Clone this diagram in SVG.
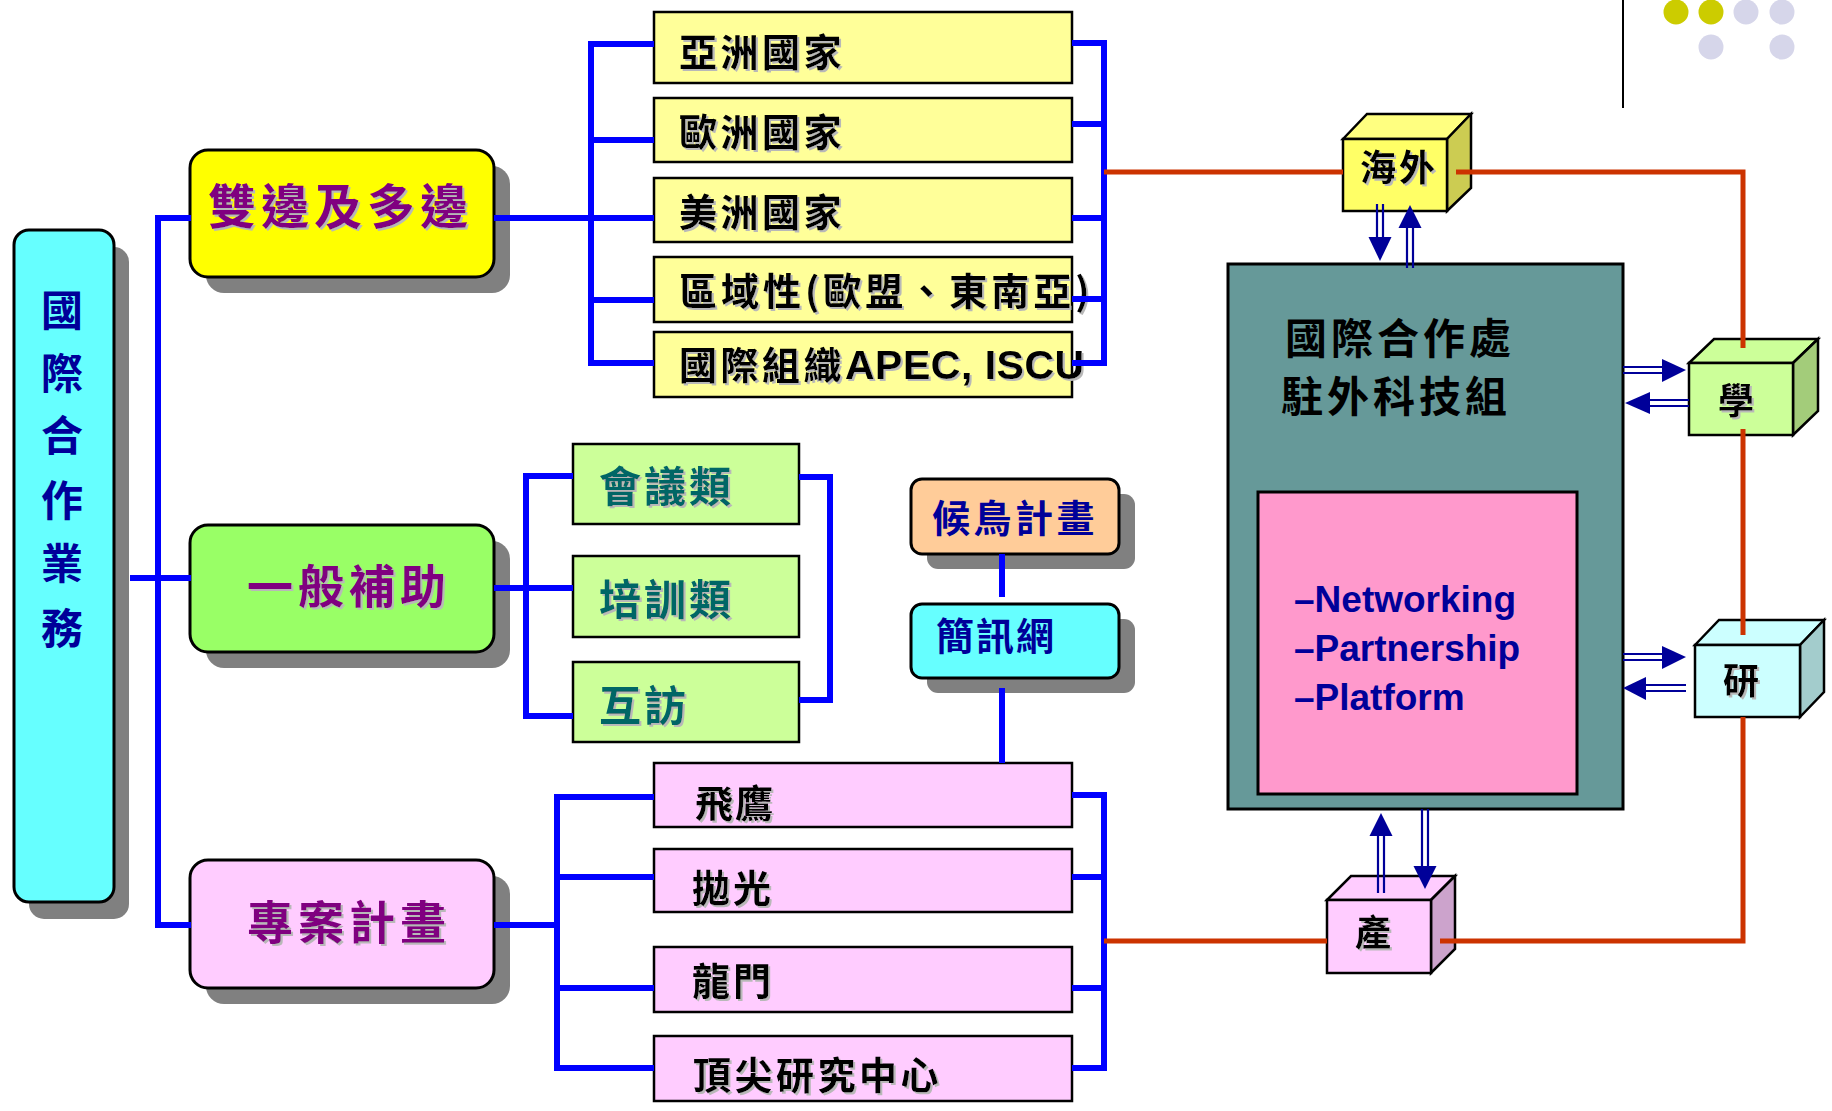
<svg xmlns="http://www.w3.org/2000/svg" width="1832" height="1111" viewBox="0 0 1832 1111">
<defs>
<style>
.cjk{font-family:'Noto Sans CJK TC','Noto Sans CJK SC',sans-serif;}
.lat{font-family:'Liberation Sans',Arial,sans-serif;font-weight:bold;}
.sh{fill:#808080;}
.bx{stroke:#000;stroke-width:2.5;}
.rb{stroke:#000;stroke-width:3;}
.blue{fill:none;stroke:#0000FF;stroke-width:6;stroke-linejoin:miter;stroke-linecap:butt;}
.red{fill:none;stroke:#CC3300;stroke-width:5;}
.dl{stroke:#000099;stroke-width:2.2;fill:none;}
.ah{fill:#000099;}
.cube{stroke:#000;stroke-width:2.5;stroke-linejoin:miter;}
.blk{fill:#000;font-weight:bold;}
</style>
<filter id="ts" x="-5%" y="-20%" width="115%" height="150%">
<feOffset in="SourceAlpha" dx="2" dy="2" result="o"/>
<feFlood flood-color="#B8B8B8"/>
<feComposite in2="o" operator="in" result="s"/>
<feMerge><feMergeNode in="s"/><feMergeNode in="SourceGraphic"/></feMerge>
</filter>
</defs>
<rect width="1832" height="1111" fill="#FFFFFF"/>

<!-- decoration -->
<line x1="1623" y1="0" x2="1623" y2="108" stroke="#000" stroke-width="2"/>
<circle cx="1676" cy="12" r="12.5" fill="#CCCC00"/>
<circle cx="1711" cy="12" r="12.5" fill="#CCCC00"/>
<circle cx="1746" cy="12" r="12.5" fill="#D6D6EA"/>
<circle cx="1782" cy="12" r="12.5" fill="#D6D6EA"/>
<circle cx="1711" cy="47" r="12.5" fill="#D6D6EA"/>
<circle cx="1782" cy="47" r="12.5" fill="#D6D6EA"/>

<!-- main vertical node -->
<g id="n-main">
<rect class="sh" x="29" y="247" width="100" height="672" rx="15"/>
<rect class="rb" x="14" y="230" width="100" height="672" rx="15" fill="#66FFFF"/>
<text class="cjk" font-size="42" font-weight="bold" fill="#000099" text-anchor="middle"><tspan x="62" y="326">國</tspan><tspan x="62" y="389">際</tspan><tspan x="62" y="451">合</tspan><tspan x="62" y="516">作</tspan><tspan x="62" y="579">業</tspan><tspan x="62" y="644">務</tspan></text>
</g>

<g id="n-bilateral">
<rect class="sh" x="206" y="166" width="304" height="127" rx="18"/>
<rect class="rb" x="190" y="150" width="304" height="127" rx="18" fill="#FFFF00"/>
<text class="cjk" x="208" y="224" font-size="48" font-weight="bold" fill="#800080" letter-spacing="5" filter="url(#ts)">雙邊及多邊</text>
</g>
<g id="n-general">
<rect class="sh" x="206" y="541" width="304" height="127" rx="18"/>
<rect class="rb" x="190" y="525" width="304" height="127" rx="18" fill="#99FF66"/>
<text class="cjk" x="247" y="603" font-size="46" font-weight="bold" fill="#800080" letter-spacing="5" filter="url(#ts)">一般補助</text>
</g>
<g id="n-project">
<rect class="sh" x="206" y="876" width="304" height="128" rx="18"/>
<rect class="rb" x="190" y="860" width="304" height="128" rx="18" fill="#FFCCFF"/>
<text class="cjk" x="247" y="939" font-size="46" font-weight="bold" fill="#800080" letter-spacing="5" filter="url(#ts)">專案計畫</text>
</g>

<!-- yellow list -->
<g id="n-asia"><rect class="bx" x="654" y="12" width="418" height="71" fill="#FFFF99"/><text class="cjk blk" x="679" y="66" font-size="38" letter-spacing="3.5" filter="url(#ts)">亞洲國家</text></g>
<g id="n-europe"><rect class="bx" x="654" y="98" width="418" height="64" fill="#FFFF99"/><text class="cjk blk" x="679" y="146" font-size="38" letter-spacing="3.5" filter="url(#ts)">歐洲國家</text></g>
<g id="n-america"><rect class="bx" x="654" y="178" width="418" height="64" fill="#FFFF99"/><text class="cjk blk" x="679" y="226" font-size="38" letter-spacing="3.5" filter="url(#ts)">美洲國家</text></g>
<g id="n-regional"><rect class="bx" x="654" y="257" width="418" height="65" fill="#FFFF99"/><text class="cjk blk" x="679" y="305" font-size="38" letter-spacing="4" filter="url(#ts)">區域性(歐盟、東南亞)</text></g>
<g id="n-intl"><rect class="bx" x="654" y="332" width="418" height="65" fill="#FFFF99"/><text class="cjk blk" x="679" y="379" font-size="38" letter-spacing="3.5" filter="url(#ts)">國際組織<tspan class="lat" font-size="41" letter-spacing="0.5">APEC, ISCU</tspan></text></g>

<!-- green list -->
<g id="n-conf"><rect class="bx" x="573" y="444" width="226" height="80" fill="#CCFF99"/><text class="cjk" x="599" y="502" font-size="42" font-weight="bold" fill="#006666" letter-spacing="3" filter="url(#ts)">會議類</text></g>
<g id="n-train"><rect class="bx" x="573" y="556" width="226" height="81" fill="#CCFF99"/><text class="cjk" x="599" y="615" font-size="42" font-weight="bold" fill="#006666" letter-spacing="3" filter="url(#ts)">培訓類</text></g>
<g id="n-visit"><rect class="bx" x="573" y="662" width="226" height="80" fill="#CCFF99"/><text class="cjk" x="599" y="721" font-size="42" font-weight="bold" fill="#006666" letter-spacing="3" filter="url(#ts)">互訪</text></g>

<!-- migrant / newsletter -->
<g id="n-migrant"><rect class="sh" x="927" y="494" width="208" height="75" rx="11"/><rect class="rb" x="911" y="479" width="208" height="75" rx="11" fill="#FFCC99"/><text class="cjk" x="932" y="532" font-size="38" font-weight="bold" fill="#000099" letter-spacing="3.5">候鳥計畫</text></g>
<g id="n-news"><rect class="sh" x="927" y="619" width="208" height="74" rx="11"/><rect class="rb" x="911" y="604" width="208" height="74" rx="11" fill="#66FFFF"/><text class="cjk" x="936" y="650" font-size="38" font-weight="bold" fill="#000099" letter-spacing="2">簡訊網</text></g>

<!-- pink list -->
<g id="n-eagle"><rect class="bx" x="654" y="763" width="418" height="64" fill="#FFCCFF"/><text class="cjk blk" x="695" y="817" font-size="38" letter-spacing="2" filter="url(#ts)">飛鷹</text></g>
<g id="n-polish"><rect class="bx" x="654" y="849" width="418" height="63" fill="#FFCCFF"/><text class="cjk blk" x="692" y="902" font-size="38" letter-spacing="3" filter="url(#ts)">拋光</text></g>
<g id="n-dragon"><rect class="bx" x="654" y="947" width="418" height="65" fill="#FFCCFF"/><text class="cjk blk" x="692" y="995" font-size="38" letter-spacing="3" filter="url(#ts)">龍門</text></g>
<g id="n-top"><rect class="bx" x="654" y="1036" width="418" height="65" fill="#FFCCFF"/><text class="cjk blk" x="693" y="1089" font-size="38" letter-spacing="3.5" filter="url(#ts)">頂尖研究中心</text></g>

<!-- central teal box -->
<g id="n-office">
<rect x="1228" y="264" width="395" height="545" fill="#669999" stroke="#000" stroke-width="3"/>
<text class="cjk" x="1285" y="354" font-size="42" font-weight="bold" fill="#000" letter-spacing="4">國際合作處</text>
<text class="cjk" x="1281" y="412" font-size="42" font-weight="bold" fill="#000" letter-spacing="4">駐外科技組</text>
<rect x="1258" y="492" width="319" height="302" fill="#FF99CC" stroke="#000" stroke-width="3"/>
<text class="lat" font-size="37" fill="#000099"><tspan x="1294" y="612">–Networking</tspan><tspan x="1294" y="661">–Partnership</tspan><tspan x="1294" y="710">–Platform</tspan></text>
</g>

<!-- cubes -->
<g id="n-overseas">
<polygon class="cube" points="1343,139 1367,114 1471,114 1447,139" fill="#FFFF80"/>
<polygon class="cube" points="1447,139 1471,114 1471,188 1447,211" fill="#CCCC52"/>
<rect class="cube" x="1343" y="139" width="104" height="72" fill="#FFFF66"/>
<text class="cjk blk" x="1399" y="181" font-size="36" text-anchor="middle" letter-spacing="3" filter="url(#ts)">海外</text>
</g>
<g id="n-academia">
<polygon class="cube" points="1689,363 1714,339 1818,339 1793,363" fill="#CCFF99"/>
<polygon class="cube" points="1793,363 1818,339 1818,411 1793,435" fill="#A3CC7A"/>
<rect class="cube" x="1689" y="363" width="104" height="72" fill="#CCFF99"/>
<text class="cjk blk" x="1736" y="414" font-size="36" text-anchor="middle" filter="url(#ts)">學</text>
</g>
<g id="n-research">
<polygon class="cube" points="1695,645 1719,620 1824,620 1800,645" fill="#CCFFFF"/>
<polygon class="cube" points="1800,645 1824,620 1824,692 1800,717" fill="#A3CCCC"/>
<rect class="cube" x="1695" y="645" width="105" height="72" fill="#CCFFFF"/>
<text class="cjk blk" x="1741" y="694" font-size="36" text-anchor="middle" filter="url(#ts)">研</text>
</g>
<g id="n-industry">
<polygon class="cube" points="1327,900 1351,876 1455,876 1431,900" fill="#FFCCFF"/>
<polygon class="cube" points="1431,900 1455,876 1455,949 1431,973" fill="#CCA3CC"/>
<rect class="cube" x="1327" y="900" width="104" height="73" fill="#FFCCFF"/>
<text class="cjk blk" x="1373" y="946" font-size="36" text-anchor="middle" filter="url(#ts)">產</text>
</g>

<!-- connectors -->
<g id="connectors">
<path class="blue" d="M130,578 H191 M158,218 V925 M155,218 H191 M155,925 H191"/>
<path class="blue" d="M494,218 H654 M591,42 V366 M588,44 H654 M591,140 H654 M591,300 H654 M588,363 H654"/>
<path class="blue" d="M1072,43 H1104 V366 M1072,124 H1104 M1072,218 H1104 M1072,299 H1104 M1072,363 H1104"/>
<path class="blue" d="M494,588 H526 M526,473 V719 M523,476 H573 M526,588 H573 M523,716 H573"/>
<path class="blue" d="M799,477 H830 V700 H799"/>
<path class="blue" d="M1002,554 V597 M1002,688 V763"/>
<path class="blue" d="M494,925 H557 M557,794 V1071 M554,797 H654 M557,877 H654 M557,988 H654 M554,1068 H654"/>
<path class="blue" d="M1072,795 H1104 V1071 M1072,877 H1104 M1072,988 H1104 M1072,1068 H1104"/>
<path class="red" d="M1104,172 H1343 M1456,172 H1743 V348 M1743,429 V635 M1743,717 V941 H1440 M1104,941 H1327"/>
<path class="dl" d="M1377,204 V238 M1383,204 V238"/><polygon class="ah" points="1368.5,237 1391.5,237 1380,261"/>
<path class="dl" d="M1407,268 V227 M1413,268 V227"/><polygon class="ah" points="1398.5,228 1421.5,228 1410,205"/>
<path class="dl" d="M1623,367 H1663 M1623,373 H1663"/><polygon class="ah" points="1662,359 1662,382 1686,370"/>
<path class="dl" d="M1649,400 H1689 M1649,406 H1689"/><polygon class="ah" points="1650,392 1650,414 1625,403"/>
<path class="dl" d="M1623,654 H1663 M1623,660 H1663"/><polygon class="ah" points="1662,646 1662,669 1686,657"/>
<path class="dl" d="M1645,685 H1686 M1645,691 H1686"/><polygon class="ah" points="1646,677 1646,700 1623,688"/>
<path class="dl" d="M1378,893 V835 M1384,893 V835"/><polygon class="ah" points="1369.5,836 1392.5,836 1381,813"/>
<path class="dl" d="M1422,809 V867 M1428,809 V867"/><polygon class="ah" points="1413.5,866 1436.5,866 1425,889"/>
</g>
</svg>
